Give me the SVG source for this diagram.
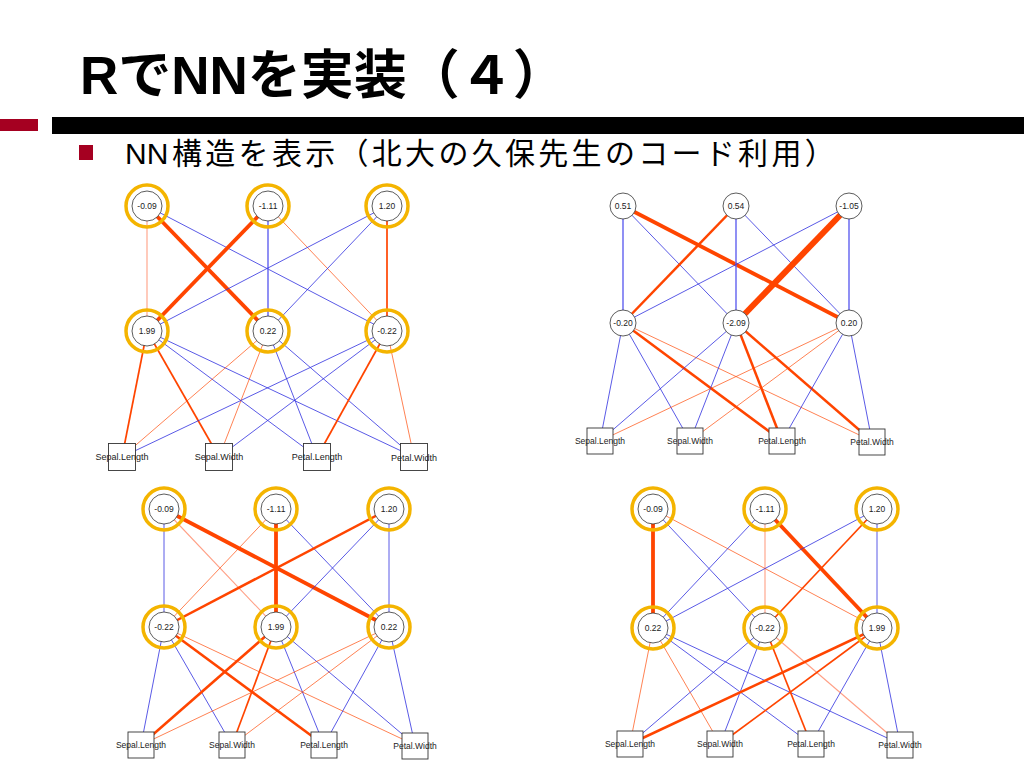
<svg xmlns="http://www.w3.org/2000/svg" width="1024" height="768" viewBox="0 0 1024 768">
<style>
.title{font-family:"Liberation Sans","Noto Sans CJK JP",sans-serif;font-weight:bold;font-size:53px;fill:#000}
.sub{font-family:"Liberation Sans","Noto Sans CJK JP",sans-serif;font-size:30px;fill:#000}
.nc{fill:#fff;stroke:#333;stroke-width:0.8}
.ring{fill:none;stroke:#F4B400;stroke-width:3.5}
.bx{fill:#fff;stroke:#333;stroke-width:0.9}
.nt{font-family:"Liberation Sans",Arial,sans-serif;font-size:8.5px;fill:#222;text-anchor:middle}
.lt{font-family:"Liberation Sans",Arial,sans-serif;font-size:9px;fill:#222;text-anchor:middle}
.lt2{font-family:"Liberation Sans",Arial,sans-serif;font-size:8.5px;fill:#222;text-anchor:middle}
line{fill:none;stroke-linecap:butt}
.o1{stroke:#FF4500;stroke-width:0.8;opacity:0.85}
.o1l{stroke:#FF5020;stroke-width:1.1;opacity:0.55}
.o2{stroke:#FF4500;stroke-width:1.7}
.o3{stroke:#FF4500;stroke-width:2.5}
.o4{stroke:#FF4500;stroke-width:3.8}
.o5{stroke:#FF4500;stroke-width:6}
.b1{stroke:#3030E0;stroke-width:0.8}
.b2{stroke:#6060F0;stroke-width:1.4}
</style>
<rect x="0" y="0" width="1024" height="768" fill="#fff"/>
<g id="header">
<text class="title" x="80" y="94">RでNNを実装（４）</text>
<rect x="0" y="119" width="38" height="12" fill="#A50021"/>
<rect x="52" y="117" width="972" height="17" fill="#000"/>
<rect x="79" y="145" width="14" height="15" fill="#A50021"/>
<text class="sub" x="125" y="164">NN<tspan x="172" letter-spacing="3.3">構造を表示（北大の久保先生のコード利用）</tspan></text>
</g>

<!-- Panel 1 -->
<g id="p1-connectors">
<line class="o1l" x1="147" y1="206" x2="147" y2="331"/>
<line class="o4" x1="147" y1="206" x2="268" y2="331"/>
<line class="b1" x1="147" y1="206" x2="387" y2="331"/>
<line class="o4" x1="268" y1="206" x2="147" y2="331"/>
<line class="b2" x1="268" y1="206" x2="268" y2="331"/>
<line class="o1" x1="268" y1="206" x2="387" y2="331"/>
<line class="b1" x1="387" y1="206" x2="147" y2="331"/>
<line class="b1" x1="387" y1="206" x2="268" y2="331"/>
<line class="o2" x1="387" y1="206" x2="387" y2="331"/>
<line class="o2" x1="147" y1="331" x2="122" y2="457"/>
<line class="o2" x1="147" y1="331" x2="219" y2="457"/>
<line class="b1" x1="147" y1="331" x2="317" y2="457"/>
<line class="b1" x1="147" y1="331" x2="414" y2="457"/>
<line class="o1" x1="268" y1="331" x2="122" y2="457"/>
<line class="o1" x1="268" y1="331" x2="219" y2="457"/>
<line class="b1" x1="268" y1="331" x2="317" y2="457"/>
<line class="b1" x1="268" y1="331" x2="414" y2="457"/>
<line class="b1" x1="387" y1="331" x2="122" y2="457"/>
<line class="b1" x1="387" y1="331" x2="219" y2="457"/>
<line class="o2" x1="387" y1="331" x2="317" y2="457"/>
<line class="o1" x1="387" y1="331" x2="414" y2="457"/>
</g>
<g id="p1-t0"><circle class="nc" cx="147" cy="206" r="15"/><circle class="ring" cx="147" cy="206" r="21"/><text class="nt" x="147" y="209">-0.09</text></g>
<g id="p1-t1"><circle class="nc" cx="268" cy="206" r="15"/><circle class="ring" cx="268" cy="206" r="21"/><text class="nt" x="268" y="209">-1.11</text></g>
<g id="p1-t2"><circle class="nc" cx="387" cy="206" r="15"/><circle class="ring" cx="387" cy="206" r="21"/><text class="nt" x="387" y="209">1.20</text></g>
<g id="p1-h0"><circle class="nc" cx="147" cy="331" r="15"/><circle class="ring" cx="147" cy="331" r="21"/><text class="nt" x="147" y="334">1.99</text></g>
<g id="p1-h1"><circle class="nc" cx="268" cy="331" r="15"/><circle class="ring" cx="268" cy="331" r="21"/><text class="nt" x="268" y="334">0.22</text></g>
<g id="p1-h2"><circle class="nc" cx="387" cy="331" r="15"/><circle class="ring" cx="387" cy="331" r="21"/><text class="nt" x="387" y="334">-0.22</text></g>
<g id="p1-i0"><rect class="bx" x="108.5" y="443.5" width="27" height="27"/><text class="lt" x="122" y="460">Sepal.Length</text></g>
<g id="p1-i1"><rect class="bx" x="205.5" y="443.5" width="27" height="27"/><text class="lt" x="219" y="460">Sepal.Width</text></g>
<g id="p1-i2"><rect class="bx" x="303.5" y="443.5" width="27" height="27"/><text class="lt" x="317" y="460">Petal.Length</text></g>
<g id="p1-i3"><rect class="bx" x="400.5" y="443.5" width="27" height="27"/><text class="lt" x="414" y="461">Petal.Width</text></g>

<!-- Panel 2 -->
<g id="p2-connectors">
<line class="b2" x1="623" y1="206" x2="623" y2="323"/>
<line class="b1" x1="623" y1="206" x2="736" y2="323"/>
<line class="o4" x1="623" y1="206" x2="849" y2="323"/>
<line class="o3" x1="736" y1="206" x2="623" y2="323"/>
<line class="b2" x1="736" y1="206" x2="736" y2="323"/>
<line class="b1" x1="736" y1="206" x2="849" y2="323"/>
<line class="b1" x1="849" y1="206" x2="623" y2="323"/>
<line class="o5" x1="849" y1="206" x2="736" y2="323"/>
<line class="b2" x1="849" y1="206" x2="849" y2="323"/>
<line class="b1" x1="623" y1="323" x2="600" y2="441"/>
<line class="b1" x1="623" y1="323" x2="690" y2="441"/>
<line class="o3" x1="623" y1="323" x2="782" y2="441"/>
<line class="o1" x1="623" y1="323" x2="872" y2="441"/>
<line class="b1" x1="736" y1="323" x2="600" y2="441"/>
<line class="b1" x1="736" y1="323" x2="690" y2="441"/>
<line class="o3" x1="736" y1="323" x2="782" y2="441"/>
<line class="o3" x1="736" y1="323" x2="872" y2="441"/>
<line class="o1" x1="849" y1="323" x2="600" y2="441"/>
<line class="o1" x1="849" y1="323" x2="690" y2="441"/>
<line class="b1" x1="849" y1="323" x2="782" y2="441"/>
<line class="b1" x1="849" y1="323" x2="872" y2="441"/>
</g>
<g id="p2-t0"><circle class="nc" cx="623" cy="206" r="13"/><text class="nt" x="623" y="209">0.51</text></g>
<g id="p2-t1"><circle class="nc" cx="736" cy="206" r="13"/><text class="nt" x="736" y="209">0.54</text></g>
<g id="p2-t2"><circle class="nc" cx="849" cy="206" r="13"/><text class="nt" x="849" y="209">-1.05</text></g>
<g id="p2-h0"><circle class="nc" cx="623" cy="323" r="13"/><text class="nt" x="623" y="326">-0.20</text></g>
<g id="p2-h1"><circle class="nc" cx="736" cy="323" r="13"/><text class="nt" x="736" y="326">-2.09</text></g>
<g id="p2-h2"><circle class="nc" cx="849" cy="323" r="13"/><text class="nt" x="849" y="326">0.20</text></g>
<g id="p2-i0"><rect class="bx" x="587" y="428" width="26" height="26"/><text class="lt2" x="600" y="444">Sepal.Length</text></g>
<g id="p2-i1"><rect class="bx" x="677" y="428" width="26" height="26"/><text class="lt2" x="690" y="444">Sepal.Width</text></g>
<g id="p2-i2"><rect class="bx" x="769" y="428" width="26" height="26"/><text class="lt2" x="782" y="444">Petal.Length</text></g>
<g id="p2-i3"><rect class="bx" x="859" y="429" width="26" height="26"/><text class="lt2" x="872" y="445">Petal.Width</text></g>

<!-- Panel 3 -->
<g id="p3-connectors">
<line class="b1" x1="164" y1="509" x2="164" y2="627"/>
<line class="o1l" x1="164" y1="509" x2="276" y2="627"/>
<line class="o4" x1="164" y1="509" x2="389" y2="627"/>
<line class="o1" x1="276" y1="509" x2="164" y2="627"/>
<line class="o4" x1="276" y1="509" x2="276" y2="627"/>
<line class="b1" x1="276" y1="509" x2="389" y2="627"/>
<line class="o3" x1="389" y1="509" x2="164" y2="627"/>
<line class="b1" x1="389" y1="509" x2="276" y2="627"/>
<line class="b1" x1="389" y1="509" x2="389" y2="627"/>
<line class="b1" x1="164" y1="627" x2="141" y2="745"/>
<line class="b1" x1="164" y1="627" x2="232" y2="745"/>
<line class="o3" x1="164" y1="627" x2="324" y2="745"/>
<line class="o1" x1="164" y1="627" x2="415" y2="745"/>
<line class="o3" x1="276" y1="627" x2="141" y2="745"/>
<line class="o2" x1="276" y1="627" x2="232" y2="745"/>
<line class="b1" x1="276" y1="627" x2="324" y2="745"/>
<line class="b1" x1="276" y1="627" x2="415" y2="745"/>
<line class="o1" x1="389" y1="627" x2="141" y2="745"/>
<line class="o1" x1="389" y1="627" x2="232" y2="745"/>
<line class="b1" x1="389" y1="627" x2="324" y2="745"/>
<line class="b1" x1="389" y1="627" x2="415" y2="745"/>
</g>
<g id="p3-t0"><circle class="nc" cx="164" cy="509" r="15"/><circle class="ring" cx="164" cy="509" r="21"/><text class="nt" x="164" y="512">-0.09</text></g>
<g id="p3-t1"><circle class="nc" cx="276" cy="509" r="15"/><circle class="ring" cx="276" cy="509" r="21"/><text class="nt" x="276" y="512">-1.11</text></g>
<g id="p3-t2"><circle class="nc" cx="389" cy="509" r="15"/><circle class="ring" cx="389" cy="509" r="21"/><text class="nt" x="389" y="512">1.20</text></g>
<g id="p3-h0"><circle class="nc" cx="164" cy="627" r="15"/><circle class="ring" cx="164" cy="627" r="21"/><text class="nt" x="164" y="630">-0.22</text></g>
<g id="p3-h1"><circle class="nc" cx="276" cy="627" r="15"/><circle class="ring" cx="276" cy="627" r="21"/><text class="nt" x="276" y="630">1.99</text></g>
<g id="p3-h2"><circle class="nc" cx="389" cy="627" r="15"/><circle class="ring" cx="389" cy="627" r="21"/><text class="nt" x="389" y="630">0.22</text></g>
<g id="p3-i0"><rect class="bx" x="128" y="732" width="26" height="26"/><text class="lt2" x="141" y="748">Sepal.Length</text></g>
<g id="p3-i1"><rect class="bx" x="219" y="732" width="26" height="26"/><text class="lt2" x="232" y="748">Sepal.Width</text></g>
<g id="p3-i2"><rect class="bx" x="311" y="732" width="26" height="26"/><text class="lt2" x="324" y="748">Petal.Length</text></g>
<g id="p3-i3"><rect class="bx" x="402" y="733" width="26" height="26"/><text class="lt2" x="415" y="749">Petal.Width</text></g>

<!-- Panel 4 -->
<g id="p4-connectors">
<line class="o4" x1="653" y1="509" x2="653" y2="628"/>
<line class="b1" x1="653" y1="509" x2="765" y2="628"/>
<line class="o1" x1="653" y1="509" x2="877" y2="628"/>
<line class="b1" x1="765" y1="509" x2="653" y2="628"/>
<line class="o1l" x1="765" y1="509" x2="765" y2="628"/>
<line class="o4" x1="765" y1="509" x2="877" y2="628"/>
<line class="b1" x1="877" y1="509" x2="653" y2="628"/>
<line class="o2" x1="877" y1="509" x2="765" y2="628"/>
<line class="b1" x1="877" y1="509" x2="877" y2="628"/>
<line class="o1" x1="653" y1="628" x2="630" y2="744"/>
<line class="o1" x1="653" y1="628" x2="720" y2="744"/>
<line class="b1" x1="653" y1="628" x2="811" y2="744"/>
<line class="b1" x1="653" y1="628" x2="900" y2="744"/>
<line class="b1" x1="765" y1="628" x2="630" y2="744"/>
<line class="b1" x1="765" y1="628" x2="720" y2="744"/>
<line class="o2" x1="765" y1="628" x2="811" y2="744"/>
<line class="o1l" x1="765" y1="628" x2="900" y2="744"/>
<line class="o3" x1="877" y1="628" x2="630" y2="744"/>
<line class="o2" x1="877" y1="628" x2="720" y2="744"/>
<line class="b1" x1="877" y1="628" x2="811" y2="744"/>
<line class="b1" x1="877" y1="628" x2="900" y2="744"/>
</g>
<g id="p4-t0"><circle class="nc" cx="653" cy="509" r="15"/><circle class="ring" cx="653" cy="509" r="21"/><text class="nt" x="653" y="512">-0.09</text></g>
<g id="p4-t1"><circle class="nc" cx="765" cy="509" r="15"/><circle class="ring" cx="765" cy="509" r="21"/><text class="nt" x="765" y="512">-1.11</text></g>
<g id="p4-t2"><circle class="nc" cx="877" cy="509" r="15"/><circle class="ring" cx="877" cy="509" r="21"/><text class="nt" x="877" y="512">1.20</text></g>
<g id="p4-h0"><circle class="nc" cx="653" cy="628" r="15"/><circle class="ring" cx="653" cy="628" r="21"/><text class="nt" x="653" y="631">0.22</text></g>
<g id="p4-h1"><circle class="nc" cx="765" cy="628" r="15"/><circle class="ring" cx="765" cy="628" r="21"/><text class="nt" x="765" y="631">-0.22</text></g>
<g id="p4-h2"><circle class="nc" cx="877" cy="628" r="15"/><circle class="ring" cx="877" cy="628" r="21"/><text class="nt" x="877" y="631">1.99</text></g>
<g id="p4-i0"><rect class="bx" x="617" y="731" width="26" height="26"/><text class="lt2" x="630" y="747">Sepal.Length</text></g>
<g id="p4-i1"><rect class="bx" x="707" y="731" width="26" height="26"/><text class="lt2" x="720" y="747">Sepal.Width</text></g>
<g id="p4-i2"><rect class="bx" x="798" y="731" width="26" height="26"/><text class="lt2" x="811" y="747">Petal.Length</text></g>
<g id="p4-i3"><rect class="bx" x="887" y="732" width="26" height="26"/><text class="lt2" x="900" y="748">Petal.Width</text></g>
</svg>
